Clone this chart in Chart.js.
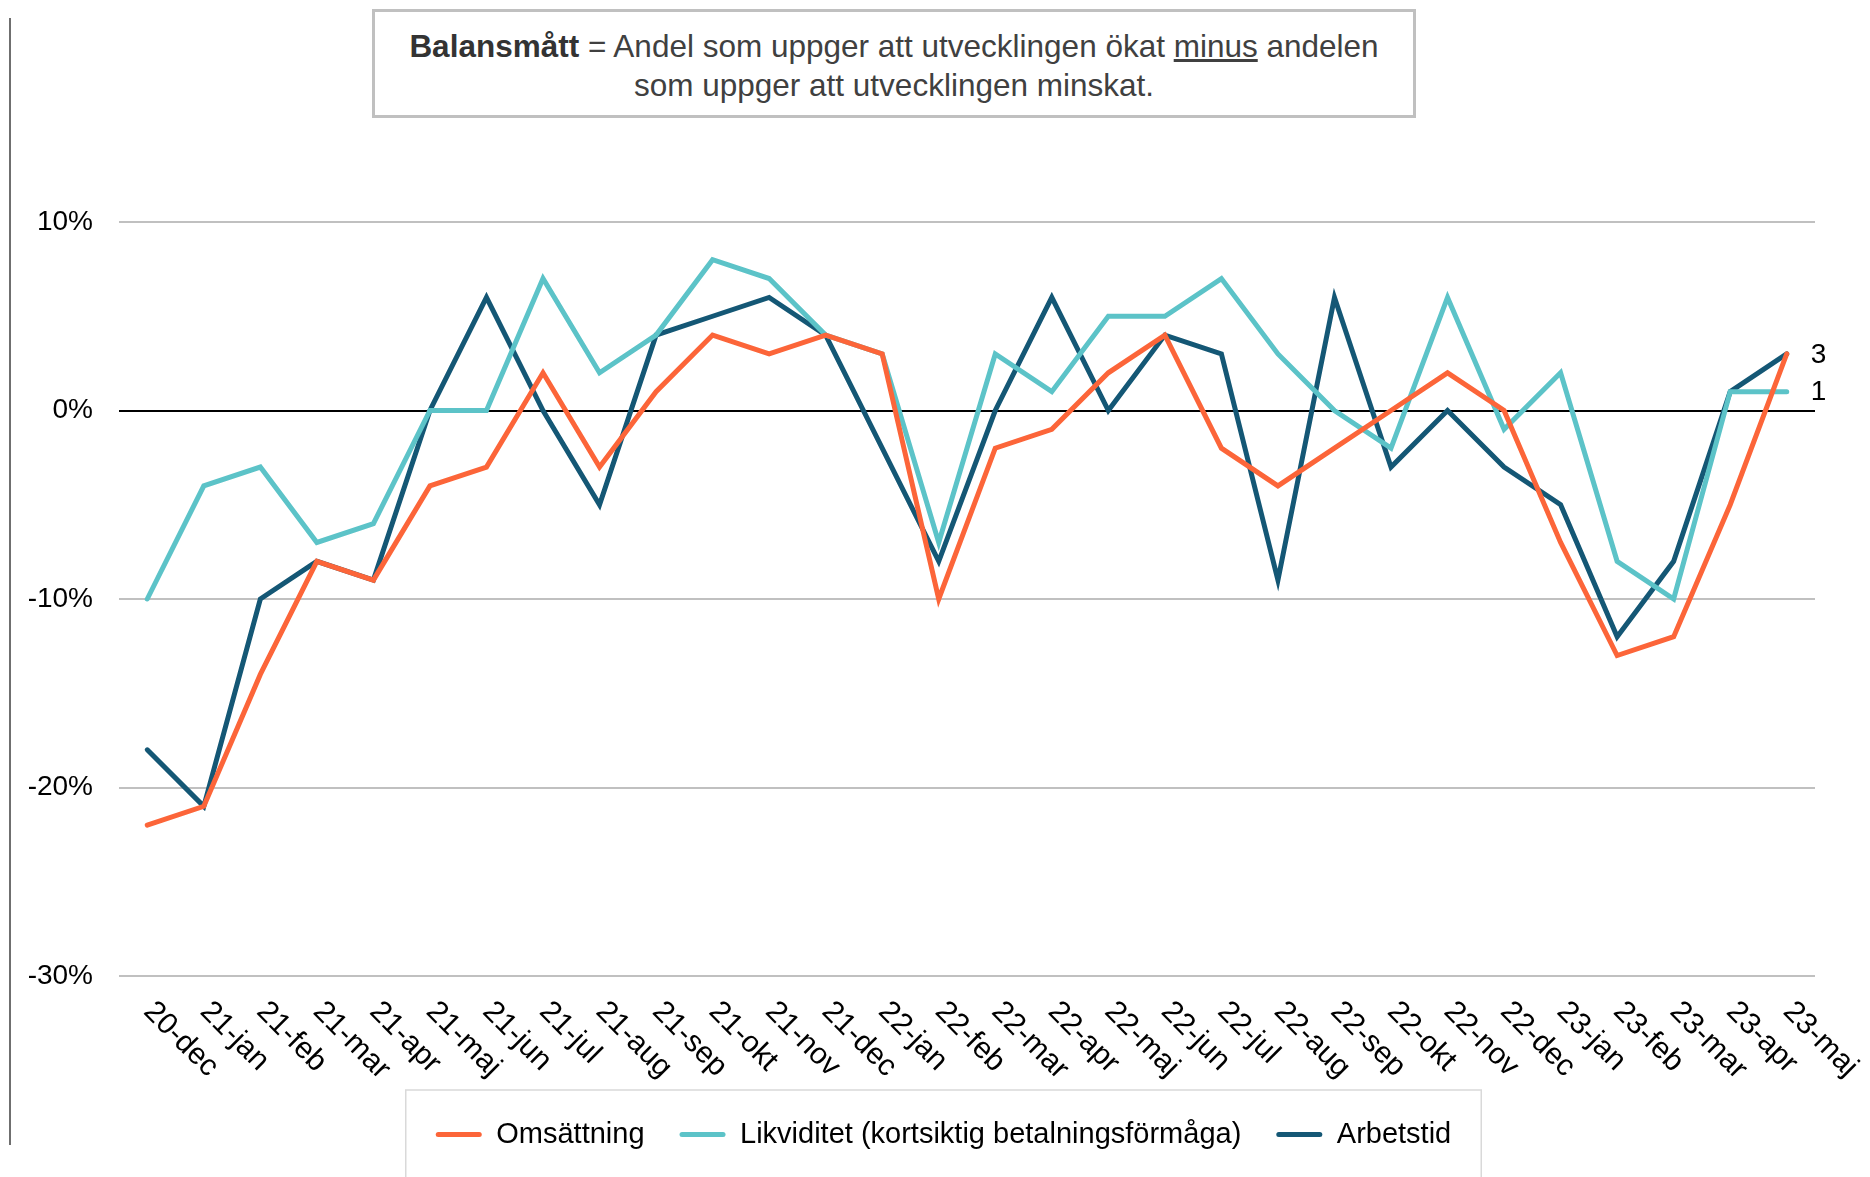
<!DOCTYPE html>
<html lang="sv">
<head>
  <meta charset="UTF-8">
  <title>Balansmått</title>
  <script src="https://cdn.jsdelivr.net/npm/chart.js"></script>
  <style>
    body { margin: 0; background: #fff; }
    #wrap { position: relative; width: 1870px; height: 1177px; overflow: hidden; }
    #note {
      position: absolute; left: 372px; top: 9px; width: 1044px; height: 109px;
      box-sizing: border-box; border: 3.5px solid #c0c0c0; padding-top: 15px;
      font-family: "Liberation Sans", Arial, sans-serif; font-size: 31.5px; line-height: 39px;
      color: #404040; text-align: center; background: #fff;
    }
    #note b { color: #333; }
    #leftline { position: absolute; left: 9px; top: 18px; width: 2px; height: 1127px; background: #6f6f6f; }
  </style>
</head>
<body>
<div id="wrap">
  <canvas id="chart" width="1870" height="1177"></canvas>
  <div id="leftline"></div>
  <div id="note"><b>Balansmått</b> = Andel som uppger att utvecklingen ökat <u>minus</u> andelen<br>som uppger att utvecklingen minskat.</div>
</div>

<script>
  // months (x axis)
  const months = ['20-dec',
    '21-jan', '21-feb', '21-mar', '21-apr', '21-maj', '21-jun', '21-jul', '21-aug', '21-sep', '21-okt', '21-nov', '21-dec',
    '22-jan', '22-feb', '22-mar', '22-apr', '22-maj', '22-jun', '22-jul', '22-aug', '22-sep', '22-okt', '22-nov', '22-dec',
    '23-jan', '23-feb', '23-mar', '23-apr', '23-maj'];

  // balansmått i procent
  const omsattning = [-22, -21, -14, -8, -9, -4, -3, 2, -3, 1, 4, 3, 4, 3, -10, -2, -1, 2, 4, -2, -4, -2, 0, 2, 0, -7, -13, -12, -5, 3];
  const likviditet = [-10, -4, -3, -7, -6, 0, 0, 7, 2, 4, 8, 7, 4, 3, -7, 3, 1, 5, 5, 7, 3, 0, -2, 6, -1, 2, -8, -10, 1, 1];
  const arbetstid = [-18, -21, -10, -8, -9, 0, 6, 0, -5, 4, 5, 6, 4, -2, -8, 0, 6, 0, 4, 3, -9, 6, -3, 0, -3, -5, -12, -8, 1, 3];

  const yTicks = [10, 0, -10, -20, -30];

  const FONT = '"Liberation Sans", Arial, sans-serif';
  Chart.defaults.font.family = FONT;
  Chart.defaults.color = '#000';

  // rotated month labels under the plot
  const monthLabels = {
    id: 'monthLabels',
    afterDraw(chart) {
      const { ctx, chartArea } = chart;
      const x = chart.scales.x;
      ctx.save();
      ctx.font = '30px ' + FONT;
      ctx.fillStyle = '#000';
      ctx.textAlign = 'left';
      ctx.textBaseline = 'middle';
      months.forEach((m, i) => {
        ctx.save();
        ctx.translate(x.getPixelForValue(i) + 1, chartArea.bottom + 31);
        ctx.rotate(Math.PI / 4);
        ctx.fillText(m, 0, 0);
        ctx.restore();
      });
      ctx.restore();
    }
  };

  // value labels at the last point of Likviditet and Arbetstid
  const endLabels = {
    id: 'endLabels',
    afterDatasetsDraw(chart) {
      const ctx = chart.ctx;
      ctx.save();
      ctx.font = '28px ' + FONT;
      ctx.fillStyle = '#000';
      ctx.textAlign = 'left';
      ctx.textBaseline = 'middle';
      [1, 2].forEach(i => {
        const meta = chart.getDatasetMeta(i);
        const last = meta.data.length - 1;
        const pt = meta.data[last];
        ctx.fillText(String(chart.data.datasets[i].data[last]), pt.x + 24, pt.y + 1);
      });
      ctx.restore();
    }
  };

  // move legend a bit and draw the frame around it
  const legendFrame = {
    id: 'legendFrame',
    afterLayout(chart) {
      chart.legend.left += 36;
      chart.legend.right += 36;
    },
    afterDraw(chart) {
      const lg = chart.legend;
      const hb = lg.legendHitBoxes;
      if (!hb || !hb.length) return;
      const l = hb[0].left - 30;
      const r = hb[hb.length - 1].left + hb[hb.length - 1].width + 30;
      const ctx = chart.ctx;
      ctx.save();
      ctx.strokeStyle = '#d9d9d9';
      ctx.lineWidth = 1.5;
      ctx.strokeRect(l, lg.top + 5, r - l, chart.height);
      ctx.restore();
    }
  };

  const config = {
    type: 'line',
    data: {
      labels: months,
      datasets: [
        { label: 'Omsättning', data: omsattning, borderColor: '#FC6539', backgroundColor: '#FC6539' },
        { label: 'Likviditet (kortsiktig betalningsförmåga)', data: likviditet, borderColor: '#5CC3C8', backgroundColor: '#5CC3C8' },
        { label: 'Arbetstid', data: arbetstid, borderColor: '#145775', backgroundColor: '#145775' }
      ].map(d => Object.assign(d, {
        borderWidth: 5, pointRadius: 0, pointHoverRadius: 0, tension: 0,
        borderCapStyle: 'round', borderJoinStyle: 'miter', fill: false
      }))
    },
    options: {
      responsive: false,
      animation: false,
      events: [],
      layout: { padding: { top: 222, right: 55, left: 0, bottom: 18 } },
      scales: {
        x: {
          offset: true,
          grid: { display: false },
          border: { display: false },
          ticks: { display: false },
          afterFit(scale) { scale.height = 109; }
        },
        y: {
          min: -30,
          max: 10,
          afterBuildTicks(scale) { scale.ticks = yTicks.map(v => ({ value: v })); },
          grid: {
            drawTicks: false,
            lineWidth: 2,
            color: c => (c.tick && c.tick.value === 0 ? '#000' : '#c0c0c0')
          },
          border: { display: false },
          ticks: {
            padding: 26,
            font: { size: 28 },
            color: '#000',
            callback: v => v + '%'
          },
          afterFit(scale) { scale.width = 119; }
        }
      },
      plugins: {
        tooltip: { enabled: false },
        legend: {
          position: 'bottom',
          labels: {
            font: { size: 29 },
            color: '#000',
            boxWidth: 46,
            boxHeight: 5,
            padding: 35,
            generateLabels(chart) {
              return Chart.defaults.plugins.legend.labels.generateLabels(chart).map(it => {
                it.fillStyle = it.strokeStyle;
                it.lineWidth = 0;
                it.borderRadius = 2.5;
                return it;
              });
            }
          }
        }
      }
    },
    plugins: [monthLabels, endLabels, legendFrame]
  };

  new Chart(document.getElementById('chart').getContext('2d'), config);
</script>
</body>
</html>
